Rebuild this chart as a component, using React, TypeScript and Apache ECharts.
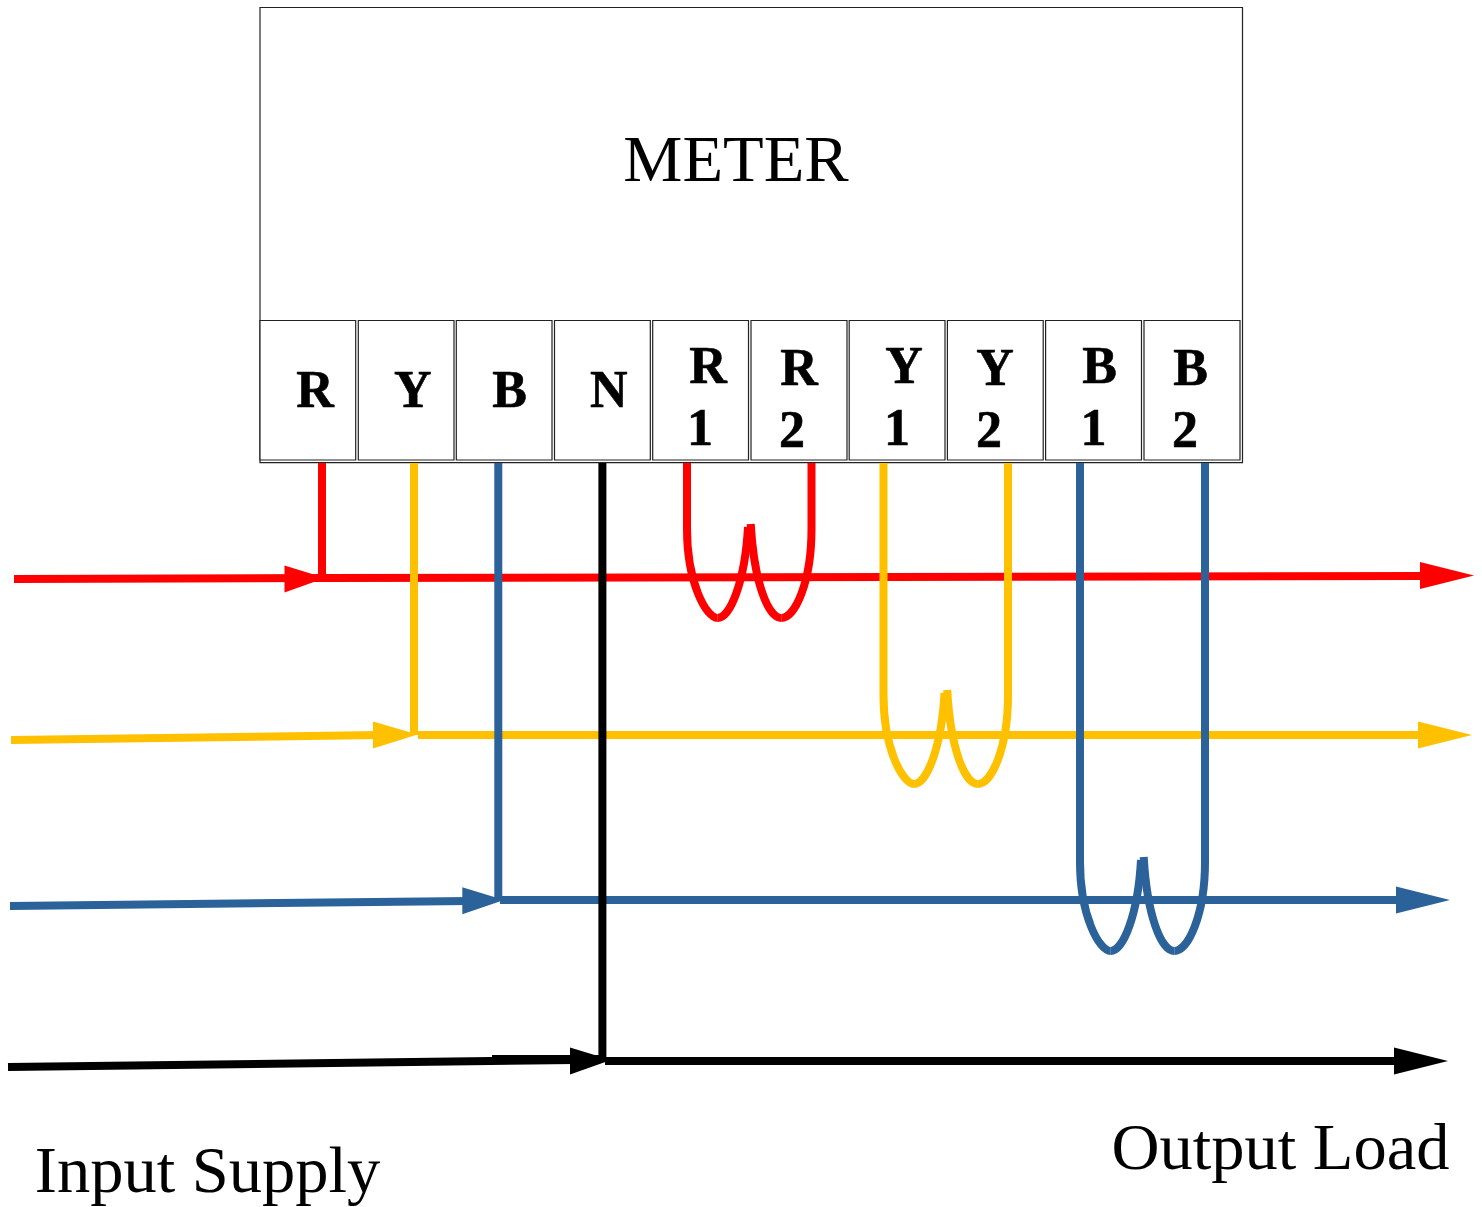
import React, { useEffect, useRef } from "react";
import * as echarts from "echarts";

const W = 1482;
const H = 1207;
const RED = "#FF0000";
const YELLOW = "#FFC000";
const BLUE = "#2B6299";
const BLACK = "#000000";

// Terminal boxes: [x0, x1, y0, y1]
const meterBox = [[260, 1242.5, 7.5, 462.7]];
const terminalBoxes = [
  [260, 355.7, 320.5, 460], [358.3, 454, 320.5, 460], [456.3, 552, 320.5, 460],
  [554.5, 650.3, 320.5, 460], [652.7, 748.5, 320.5, 460], [751, 847, 320.5, 460],
  [849.2, 945, 320.5, 460], [947.4, 1043.2, 320.5, 460], [1045.6, 1141.5, 320.5, 460],
  [1144, 1240, 320.5, 460],
];

// Label: [text, x, y]
const boldLabels: [string, number, number][] = [
  ["R", 315, 389], ["Y", 412.7, 389], ["B", 509.7, 389], ["N", 608.7, 389],
  ["R", 708, 365], ["1", 700, 427], ["R", 799, 367], ["2", 792, 429],
  ["Y", 904, 365], ["1", 897, 427], ["Y", 995, 367], ["2", 989, 429],
  ["B", 1099.5, 365], ["1", 1093.5, 427], ["B", 1190.5, 367], ["2", 1185, 429],
];
const plainLabels: [string, number, number][] = [
  ["METER", 736, 158.5],
  ["Input Supply", 207.5, 1169],
  ["Output Load", 1280.5, 1146],
];

// Wires
const redIn = [[14, 579], [322, 578]];
const redOut = [[322, 578], [1425, 576]];
const redDrop = [[322, 463], [322, 578]];
const redCoilA = [[687, 463], [687, 529]];
const redCoilB = [[811.5, 463], [811.5, 529]];
const yellowIn = [[11, 740], [380, 735]];
const yellowOut = [[418, 735], [1425, 735]];
const yellowDrop = [[414, 463], [414, 735]];
const yellowCoilA = [[883.5, 463], [883.5, 695]];
const yellowCoilB = [[1008, 463], [1008, 695]];
const blueIn = [[10, 906], [470, 901]];
const blueOut = [[500, 900], [1400, 900]];
const blueDrop = [[498.3, 463], [498.3, 900]];
const blueCoilA = [[1080, 463], [1080, 862]];
const blueCoilB = [[1205, 463], [1205, 862]];
const blackIn = [[8, 1067], [575, 1060]];
const blackIn2 = [[492, 1059], [600, 1059]];
const blackOut = [[605, 1061], [1400, 1061]];
const blackDrop = [[602.4, 463], [602.4, 1060]];

// Coil loop curves: [x1, y1, cpx1, cpy1, cpx2, cpy2, x2, y2]
const redLoops = [
  [687, 529, 687, 582, 706, 618, 717.7, 618],
  [717.7, 618, 730, 618, 745, 582, 748, 527],
  [750.7, 524, 754, 582, 768, 618, 781.3, 618],
  [781.3, 618, 795, 618, 811.5, 582, 811.5, 529],
];
const yellowLoops = [
  [883.5, 695, 883.5, 748, 902.5, 784, 914.2, 784],
  [914.2, 784, 926.5, 784, 941.5, 748, 944.5, 693],
  [947.2, 690, 950.5, 748, 964.5, 784, 977.8, 784],
  [977.8, 784, 991.5, 784, 1008, 748, 1008, 695],
];
const blueLoops = [
  [1080, 862, 1080, 915, 1099, 951, 1110.7, 951],
  [1110.7, 951, 1123, 951, 1138, 915, 1141, 860],
  [1143.7, 857, 1147, 915, 1161, 951, 1174.3, 951],
  [1174.3, 951, 1188, 951, 1205, 915, 1205, 862],
];

// Arrow heads: [baseX, tipX, baseY, tipY, halfHeight]
const redArrows = [[284.5, 325, 579, 578, 13.5], [1420, 1474, 575.5, 575.5, 13.5]];
const yellowArrows = [[373, 417.5, 735, 734.5, 13.5], [1418, 1472, 735, 735, 13.5]];
const blueArrows = [[462.3, 504, 900.7, 900, 13.5], [1396, 1450, 900, 900, 13.5]];
const blackArrows = [[570, 611, 1061, 1060, 13.5], [1394, 1448, 1061, 1061, 13.5]];

function wire(data: number[][], color: string, width = 8) {
  return {
    type: "line",
    data,
    symbol: "none",
    silent: true,
    clip: false,
    lineStyle: { color, width, cap: "butt", join: "round" },
  };
}

function loops(data: number[][], color: string) {
  return {
    type: "custom",
    coordinateSystem: "cartesian2d",
    silent: true,
    clip: false,
    data,
    renderItem: (_: any, api: any) => {
      const p1 = api.coord([api.value(0), api.value(1)]);
      const c1 = api.coord([api.value(2), api.value(3)]);
      const c2 = api.coord([api.value(4), api.value(5)]);
      const p2 = api.coord([api.value(6), api.value(7)]);
      return {
        type: "bezierCurve",
        shape: {
          x1: p1[0], y1: p1[1],
          cpx1: c1[0], cpy1: c1[1],
          cpx2: c2[0], cpy2: c2[1],
          x2: p2[0], y2: p2[1],
        },
        style: { fill: "none", stroke: color, lineWidth: 8, lineCap: "butt" },
      };
    },
  };
}

function arrows(data: number[][], color: string) {
  return {
    type: "custom",
    coordinateSystem: "cartesian2d",
    silent: true,
    clip: false,
    data,
    renderItem: (_: any, api: any) => {
      const a = api.coord([api.value(0), api.value(2)]);
      const b = api.coord([api.value(1), api.value(3)]);
      const h = api.value(4);
      return {
        type: "polygon",
        shape: { points: [[a[0], a[1] - h], b, [a[0], a[1] + h]] },
        style: { fill: color, stroke: "none" },
      };
    },
  };
}

function boxes(data: number[][], strokeWidth: number, stroke: string) {
  return {
    type: "custom",
    coordinateSystem: "cartesian2d",
    silent: true,
    clip: false,
    data,
    renderItem: (_: any, api: any) => {
      const p0 = api.coord([api.value(0), api.value(2)]);
      const p1 = api.coord([api.value(1), api.value(3)]);
      return {
        type: "rect",
        shape: { x: p0[0], y: p0[1], width: p1[0] - p0[0], height: p1[1] - p0[1] },
        style: { fill: "#fff", stroke, lineWidth: strokeWidth },
      };
    },
  };
}

function labels(data: [string, number, number][], font: string, thicken = 0) {
  return {
    type: "custom",
    coordinateSystem: "cartesian2d",
    silent: true,
    clip: false,
    data: data.map((d) => [d[1], d[2], d[0]]),
    encode: { x: 0, y: 1 },
    renderItem: (params: any, api: any) => {
      const p = api.coord([api.value(0), api.value(1)]);
      return {
        type: "text",
        x: p[0],
        y: p[1],
        style: {
          text: data[params.dataIndex][0],
          font,
          fill: "#000",
          stroke: thicken ? "#000" : undefined,
          lineWidth: thicken,
          align: "center",
          verticalAlign: "middle",
        },
      };
    },
  };
}

export default function App() {
  const ref = useRef<HTMLDivElement>(null);
  useEffect(() => {
    const chart = echarts.init(ref.current!, undefined, { renderer: "svg" });
    chart.setOption({
      animation: false,
      backgroundColor: "#fff",
      grid: { left: 0, right: 0, top: 0, bottom: 0 },
      xAxis: { type: "value", min: 0, max: W, show: false },
      yAxis: { type: "value", min: 0, max: H, inverse: true, show: false },
      series: [
        boxes(meterBox, 1.2, "#222"),
        boxes(terminalBoxes, 1.2, "#222"),
        labels(plainLabels, '66.5px "Liberation Serif"'),
        labels(boldLabels, 'bold 52px "Liberation Serif"', 0.6),
        wire(redIn, RED),
        wire(redOut, RED),
        wire(redDrop, RED),
        arrows(redArrows, RED),
        wire(redCoilA, RED),
        wire(redCoilB, RED),
        loops(redLoops, RED),
        wire(yellowOut, YELLOW),
        wire(yellowIn, YELLOW),
        wire(yellowDrop, YELLOW),
        arrows(yellowArrows, YELLOW),
        wire(yellowCoilA, YELLOW),
        wire(yellowCoilB, YELLOW),
        loops(yellowLoops, YELLOW),
        wire(blueOut, BLUE),
        wire(blueIn, BLUE),
        wire(blueDrop, BLUE),
        arrows(blueArrows, BLUE),
        wire(blueCoilA, BLUE),
        wire(blueCoilB, BLUE),
        loops(blueLoops, BLUE),
        wire(blackIn, BLACK),
        wire(blackIn2, BLACK),
        wire(blackOut, BLACK),
        wire(blackDrop, BLACK),
        arrows(blackArrows, BLACK),
      ],
    });
    return () => chart.dispose();
  }, []);
  return (
    <div
      ref={ref}
      style={{ position: "absolute", left: 0, top: 0, width: W, height: H }}
    />
  );
}
